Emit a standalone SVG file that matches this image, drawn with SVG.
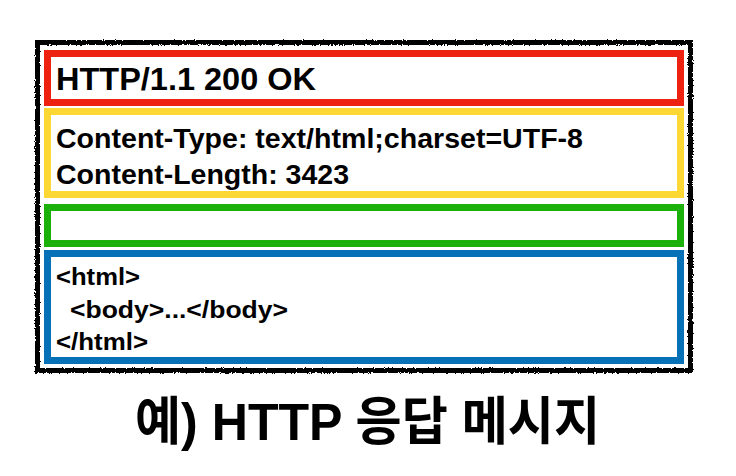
<svg xmlns="http://www.w3.org/2000/svg" width="736" height="476" viewBox="0 0 736 476">
<defs>
<filter id="rough" x="-5%" y="-5%" width="110%" height="110%">
<feTurbulence type="fractalNoise" baseFrequency="0.9" numOctaves="2" seed="3" result="n"/>
<feDisplacementMap in="SourceGraphic" in2="n" scale="3" xChannelSelector="R" yChannelSelector="G"/>
</filter>
<style>
.box{fill:#ffffff;stroke-width:7}
.t{font-family:"Liberation Sans",Arial,sans-serif;font-weight:bold;fill:#000}
</style>
</defs>
<rect width="736" height="476" fill="#ffffff"/>
<g id="frame">
<rect x="37.5" y="42.5" width="653" height="328" fill="none" stroke="#000" stroke-width="5" filter="url(#rough)"/>
</g>
<g id="status-line">
<rect class="box" x="47.5" y="53.5" width="633" height="49" stroke="#ee2211"/>
<text class="t" x="56" y="90" font-size="32" textLength="260" lengthAdjust="spacingAndGlyphs">HTTP/1.1 200 OK</text>
</g>
<g id="headers">
<rect class="box" x="47.5" y="111.5" width="633" height="83" stroke="#fdd835"/>
<text class="t" x="56" y="148" font-size="28" textLength="527" lengthAdjust="spacingAndGlyphs">Content-Type: text/html;charset=UTF-8</text>
<text class="t" x="56" y="184" font-size="28" textLength="293" lengthAdjust="spacingAndGlyphs">Content-Length: 3423</text>
</g>
<g id="empty-line">
<rect class="box" x="47.5" y="207.5" width="633" height="36" stroke="#1cb00a"/>
</g>
<g id="body">
<rect class="box" x="47.5" y="253.5" width="633" height="107" stroke="#0671b6"/>
<text class="t" x="56" y="285" font-size="24" textLength="84" lengthAdjust="spacingAndGlyphs">&lt;html&gt;</text>
<text class="t" x="70" y="318" font-size="24" textLength="218" lengthAdjust="spacingAndGlyphs">&lt;body&gt;...&lt;/body&gt;</text>
<text class="t" x="56" y="350" font-size="24" textLength="92" lengthAdjust="spacingAndGlyphs">&lt;/html&gt;</text>
</g>
<g id="caption">
<text x="135" y="440" font-size="52" textLength="465" lengthAdjust="spacingAndGlyphs" font-family="'Liberation Sans','Noto Sans CJK KR',sans-serif" font-weight="bold" fill="#000">예) HTTP 응답 메시지</text>
</g>
</svg>
